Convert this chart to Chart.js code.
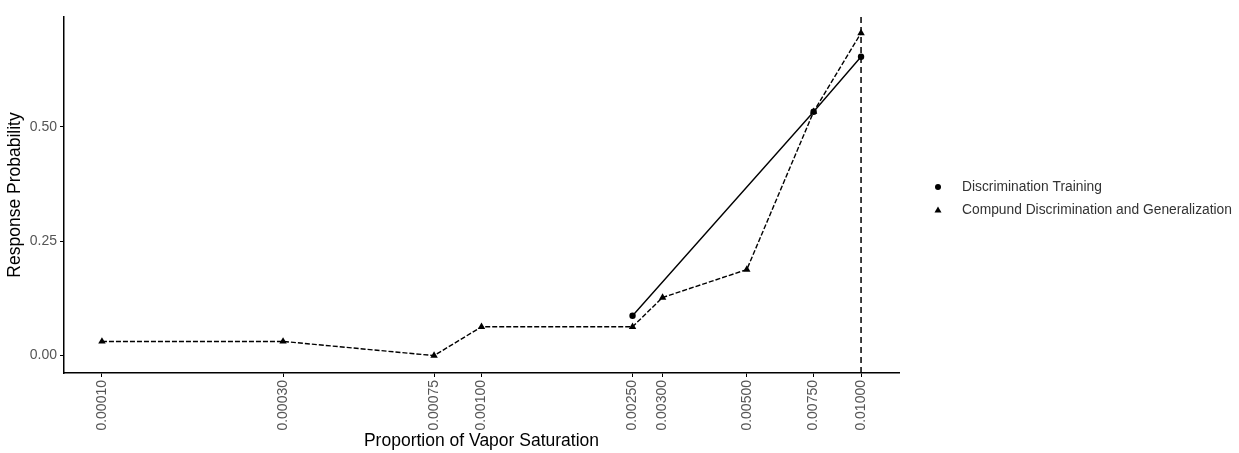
<!DOCTYPE html>
<html>
<head>
<meta charset="utf-8">
<script src="https://cdn.jsdelivr.net/npm/chart.js@4.4.0/dist/chart.umd.min.js"></script>
<style>
  html, body { margin: 0; padding: 0; background: #fff; }
</style>
</head>
<body>
<canvas id="vaporChart" width="1239" height="453"></canvas>
<script>
// x values (proportion of vapor saturation) and tick labels
var xTicks = [0.0001, 0.0003, 0.00075, 0.001, 0.0025, 0.003, 0.005, 0.0075, 0.01];
var xTickLabels = ['0.00010', '0.00030', '0.00075', '0.00100', '0.00250', '0.00300', '0.00500', '0.00750', '0.01000'];
var yTicks = [0, 0.25, 0.5];
var yTickLabels = ['0.00', '0.25', '0.50'];

// Discrimination Training (circles)
var trainingX = [0.0025, 0.0075, 0.01];
var trainingY = [0.087, 0.533, 0.653];

// Compund Discrimination and Generalization (triangles)
var compoundX = [0.0001, 0.0003, 0.00075, 0.001, 0.0025, 0.003, 0.005, 0.0075, 0.01];
var compoundY = [0.031, 0.031, 0.0, 0.063, 0.063, 0.127, 0.188, 0.533, 0.705];

var seriesNames = ['Discrimination Training', 'Compund Discrimination and Generalization'];
var vlineX = 0.01;

var fontFamily = '"Liberation Sans", Arial, sans-serif';

function toPoints(xs, ys) {
    return xs.map(function (x, i) { return { x: x, y: ys[i] }; });
}

// dashed reference line at the last concentration
var vlinePlugin = {
    id: 'vline',
    afterDatasetsDraw: function (chart) {
        var ctx = chart.ctx;
        var x = chart.scales.x.getPixelForValue(vlineX);
        var area = chart.chartArea;
        ctx.save();
        ctx.strokeStyle = '#000';
        ctx.lineWidth = 1.5;
        ctx.setLineDash([6, 4]);
        ctx.beginPath();
        ctx.moveTo(x, area.top);
        ctx.lineTo(x, area.bottom);
        ctx.stroke();
        ctx.restore();
    }
};

// legend on the right, ggplot style
var legendPlugin = {
    id: 'sideLegend',
    afterDraw: function (chart) {
        var ctx = chart.ctx;
        var keyX = 938, textX = 962;
        var rows = [187, 210];
        ctx.save();
        ctx.fillStyle = '#000';
        // circle
        ctx.beginPath();
        ctx.arc(keyX, rows[0], 3, 0, Math.PI * 2);
        ctx.fill();
        // triangle
        ctx.beginPath();
        ctx.moveTo(keyX, rows[1] - 3.5);
        ctx.lineTo(keyX + 3.5, rows[1] + 2.5);
        ctx.lineTo(keyX - 3.5, rows[1] + 2.5);
        ctx.closePath();
        ctx.fill();
        ctx.fillStyle = '#333';
        ctx.font = '13.8px ' + fontFamily;
        ctx.textBaseline = 'middle';
        ctx.fillText(seriesNames[0], textX, rows[0]);
        ctx.fillText(seriesNames[1], textX, rows[1]);
        ctx.restore();
    }
};

var ctx = document.getElementById('vaporChart').getContext('2d');

var myChart = new Chart(ctx, {
    type: 'line',
    data: {
        datasets: [{
            label: seriesNames[0],
            data: toPoints(trainingX, trainingY),
            borderColor: '#000',
            backgroundColor: '#000',
            borderWidth: 1.4,
            pointStyle: 'circle',
            pointRadius: 3.2,
            pointBorderWidth: 0,
            tension: 0
        }, {
            label: seriesNames[1],
            data: toPoints(compoundX, compoundY),
            borderColor: '#000',
            backgroundColor: '#000',
            borderWidth: 1.4,
            borderDash: [5, 2],
            pointStyle: 'triangle',
            pointRadius: 4.3,
            pointBorderWidth: 0,
            tension: 0
        }]
    },
    options: {
        responsive: false,
        animation: false,
        layout: { padding: { top: 17, right: 340, left: 0, bottom: 0 } },
        plugins: {
            legend: { display: false },
            tooltip: { enabled: false }
        },
        scales: {
            x: {
                type: 'logarithmic',
                min: Math.pow(10, -4.1),
                max: Math.pow(10, -1.9),
                afterBuildTicks: function (scale) {
                    scale.ticks = xTicks.map(function (v) { return { value: v }; });
                },
                afterFit: function (scale) { scale.height = 80; },
                ticks: {
                    autoSkip: false,
                    minRotation: 90,
                    maxRotation: 90,
                    padding: 3,
                    color: '#555',
                    font: { family: fontFamily, size: 14 },
                    callback: function (value) {
                        var i = xTicks.indexOf(value);
                        return i >= 0 ? xTickLabels[i] : '';
                    }
                },
                grid: {
                    drawOnChartArea: false,
                    drawTicks: true,
                    tickLength: 4,
                    color: '#000'
                },
                border: { color: '#000', width: 1.5 },
                title: {
                    display: true,
                    text: 'Proportion of Vapor Saturation',
                    color: '#000',
                    padding: { top: 0, bottom: 1 },
                    font: { family: fontFamily, size: 17.5 }
                }
            },
            y: {
                type: 'linear',
                min: -0.038,
                max: 0.74,
                afterBuildTicks: function (scale) {
                    scale.ticks = yTicks.map(function (v) { return { value: v }; });
                },
                afterFit: function (scale) { scale.width = 64; },
                ticks: {
                    padding: 3,
                    color: '#555',
                    font: { family: fontFamily, size: 14 },
                    callback: function (value) {
                        var i = yTicks.indexOf(value);
                        return i >= 0 ? yTickLabels[i] : '';
                    }
                },
                grid: {
                    drawOnChartArea: false,
                    drawTicks: true,
                    tickLength: 4,
                    color: '#000'
                },
                border: { color: '#000', width: 1.5 },
                title: {
                    display: true,
                    text: 'Response Probability',
                    color: '#000',
                    padding: { top: 5, bottom: 0 },
                    font: { family: fontFamily, size: 17.5 }
                }
            }
        }
    },
    plugins: [vlinePlugin, legendPlugin]
});
</script>
</body>
</html>
